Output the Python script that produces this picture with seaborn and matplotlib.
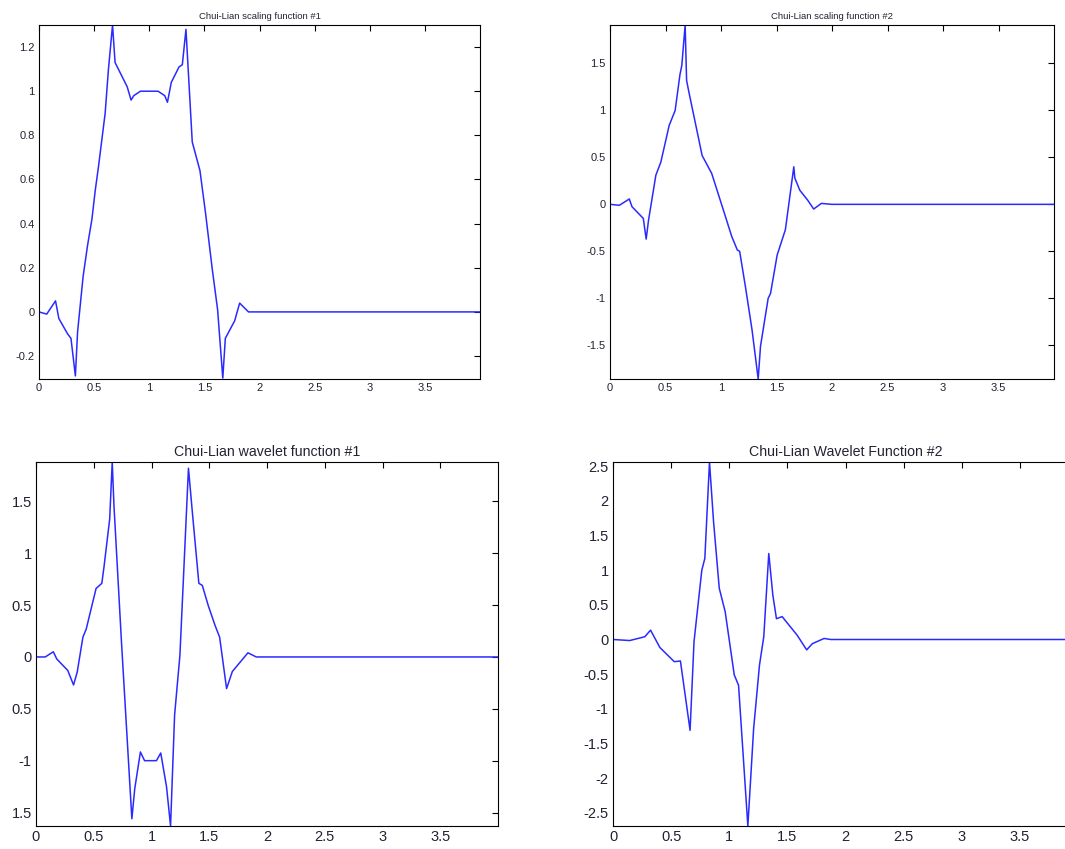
import numpy as np
import pandas as pd
import seaborn as sns
import matplotlib
matplotlib.use("Agg")
import matplotlib.pyplot as plt

# values (support [0, 2], zero afterwards up to 4)
phi1_x = [0, 0.07, 0.15, 0.18, 0.26, 0.29, 0.33, 0.35, 0.40, 0.44, 0.48, 0.51, 0.54, 0.57, 0.60,
          0.63, 0.667, 0.69, 0.76, 0.80, 0.835, 0.86, 0.92, 1.00, 1.08, 1.14, 1.165, 1.20, 1.27,
          1.30, 1.333, 1.39, 1.46, 1.51, 1.57, 1.62, 1.667, 1.69, 1.775, 1.82, 1.90, 2.0, 4.0]
phi1_y = [0, -0.01, 0.05, -0.03, -0.10, -0.12, -0.29, -0.09, 0.16, 0.30, 0.42, 0.55, 0.66, 0.78, 0.90,
          1.10, 1.30, 1.13, 1.06, 1.02, 0.96, 0.98, 1.00, 1.00, 1.00, 0.98, 0.95, 1.04, 1.11,
          1.12, 1.28, 0.77, 0.64, 0.45, 0.20, 0.01, -0.30, -0.12, -0.04, 0.04, 0.0, 0.0, 0.0]

phi2_x = [0, 0.084, 0.174, 0.198, 0.30, 0.326, 0.347, 0.413, 0.458, 0.533, 0.587, 0.63, 0.647, 0.677,
          0.69, 0.71, 0.83, 0.916, 1.04, 1.096, 1.147, 1.168, 1.22, 1.28, 1.335, 1.356, 1.425, 1.446,
          1.506, 1.58, 1.656, 1.665, 1.71, 1.78, 1.835, 1.904, 2.0, 4.0]
phi2_y = [0, -0.01, 0.057, -0.025, -0.15, -0.37, -0.17, 0.31, 0.45, 0.84, 1.00, 1.38, 1.48, 1.91,
          1.32, 1.20, 0.52, 0.33, -0.13, -0.34, -0.486, -0.50, -0.876, -1.34, -1.86, -1.51, -1.0, -0.95,
          -0.54, -0.27, 0.40, 0.28, 0.15, 0.046, -0.05, 0.01, 0.0, 0.0]

psi1_x = [0, 0.08, 0.15, 0.18, 0.275, 0.325, 0.357, 0.406, 0.435, 0.52, 0.57, 0.59, 0.638, 0.66,
          0.675, 0.74, 0.83, 0.855, 0.904, 0.94, 1.043, 1.08, 1.13, 1.165, 1.20, 1.246, 1.32, 1.355,
          1.41, 1.44, 1.49, 1.55, 1.59, 1.65, 1.70, 1.835, 1.907, 2.0, 4.0]
psi1_y = [0, 0.0, 0.05, -0.02, -0.13, -0.27, -0.145, 0.19, 0.27, 0.66, 0.71, 0.88, 1.33, 1.88,
          1.46, 0.145, -1.56, -1.27, -0.916, -1.0, -1.0, -0.926, -1.25, -1.63, -0.56, 0.016, 1.82, 1.38,
          0.71, 0.69, 0.50, 0.305, 0.19, -0.305, -0.14, 0.04, 0.0, 0.0, 0.0]

psi2_x = [0, 0.144, 0.274, 0.323, 0.403, 0.527, 0.58, 0.663, 0.697, 0.764, 0.79, 0.83, 0.865, 0.914,
          0.965, 1.043, 1.08, 1.16, 1.21, 1.26, 1.297, 1.34, 1.375, 1.406, 1.455, 1.585, 1.666, 1.715,
          1.816, 1.873, 2.0, 4.0]
psi2_y = [0, -0.015, 0.04, 0.135, -0.115, -0.32, -0.31, -1.31, -0.03, 1.0, 1.17, 2.56, 1.70, 0.74,
          0.40, -0.51, -0.66, -2.69, -1.28, -0.37, 0.04, 1.24, 0.64, 0.30, 0.33, 0.06, -0.15, -0.06,
          0.015, 0.0, 0.0, 0.0]

titles = ["Chui-Lian scaling function #1", "Chui-Lian scaling function #2",
          "Chui-Lian wavelet function #1", "Chui-Lian Wavelet Function #2"]
xticks = [0, 0.5, 1, 1.5, 2, 2.5, 3, 3.5]
xticklabels = ["0", "0.5", "1", "1.5", "2", "2.5", "3", "3.5"]
yticks = [
    [-0.2, 0, 0.2, 0.4, 0.6, 0.8, 1.0, 1.2],
    [-1.5, -1, -0.5, 0, 0.5, 1, 1.5],
    [-1.5, -1, -0.5, 0, 0.5, 1, 1.5],
    [-2.5, -2, -1.5, -1, -0.5, 0, 0.5, 1, 1.5, 2, 2.5],
]
yticklabels = [
    ["-0.2", "0", "0.2", "0.4", "0.6", "0.8", "1", "1.2"],
    ["-1.5", "-1", "-0.5", "0", "0.5", "1", "1.5"],
    ["1.5", "-1", "0.5", "0", "0.5", "1", "1.5"],
    ["-2.5", "-2", "-1.5", "-1", "-0.5", "0", "0.5", "1", "1.5", "2", "2.5"],
]
ylims = [(-0.304, 1.30), (-1.86, 1.91), (-1.63, 1.88), (-2.69, 2.56)]

series = [(phi1_x, phi1_y), (phi2_x, phi2_y), (psi1_x, psi1_y), (psi2_x, psi2_y)]

sns.set_style("white")
plt.rcParams["font.family"] = ["Liberation Sans", "DejaVu Sans"]

W, H = 1065, 849
fig = plt.figure(figsize=(W / 100, H / 100), dpi=100)

# axes boxes in pixels: left, right, top, bottom
boxes = [(39, 480, 25, 379), (610, 1054, 25, 379), (36, 498, 462, 826), (613, 1078, 462, 826)]
tick_fs = [8, 8, 10.5, 10.5]
title_fs = [6.8, 6.8, 10.2, 10.2]

for i, (l, r, t, b) in enumerate(boxes):
    ax = fig.add_axes([l / W, 1 - b / H, (r - l) / W, (b - t) / H])
    xs, ys = series[i]
    df = pd.DataFrame({"x": xs, "y": ys})
    sns.lineplot(data=df, x="x", y="y", ax=ax, sort=False, estimator=None,
                 color="#2a2aff", linewidth=1.1)
    ax.set_xlim(0, 4)
    ax.set_ylim(*ylims[i])
    ax.set_xticks(xticks)
    ax.set_xticklabels(xticklabels)
    ax.set_yticks(yticks[i])
    ax.set_yticklabels(yticklabels[i])
    ax.set_xlabel("")
    ax.set_ylabel("")
    ax.tick_params(direction="in", length=4, width=0.8, top=True, right=True,
                   labelsize=tick_fs[i], colors="black", labelcolor="#222233", pad=3)
    for s in ax.spines.values():
        s.set_visible(True)
        s.set_color("black")
        s.set_linewidth(0.8)
    ax.set_title(titles[i], fontsize=title_fs[i], color="#222233", pad=4)

fig.savefig("out.png", dpi=100)
